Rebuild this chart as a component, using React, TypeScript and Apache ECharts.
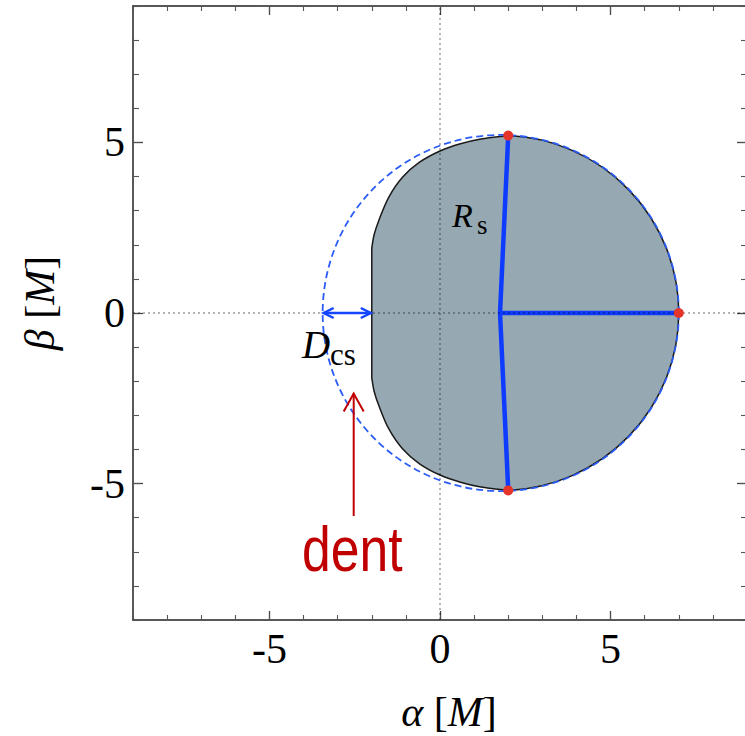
import React, { useEffect, useRef } from 'react';
import * as echarts from 'echarts';

// axis setup
const axisMin = -9;
const axisMax = 9;
const majorTicks = [-5, 0, 5];

// shadow contour: upper "dent" part, from top join down to the start of the flat edge
const dentUpperAlpha = [2.0, 1.2, 0.6, 0.0, -0.6, -1.1, -1.5, -1.78, -1.93, -2.0];
const dentUpperBeta = [5.2, 5.1, 4.96, 4.75, 4.42, 3.98, 3.4, 2.75, 2.3, 1.9];
const shadowRightPoint = [7, 0];

// reference circle (dashed)
const circleCenter = [1.78, 0];
const circleRadius = 5.22;

// R_s construction lines
const rsVertical = [[2, 5.2], [1.76, 0], [2, -5.2]];
const rsHorizontal = [[1.76, 0], [7, 0]];
const redDots = [[2, 5.2], [2, -5.2], [7, 0]];

// arrows
const dcsArrow = [[-3.44, 0], [-2.0, 0]];
const dentArrow = [[-2.53, -5.95], [-2.53, -2.36]];

const SERIF = 'Liberation Serif';

function catmull(pts: number[][]): string {
  let d = '';
  for (let i = 0; i < pts.length - 1; i++) {
    const p0 = pts[i - 1] || pts[i];
    const p1 = pts[i];
    const p2 = pts[i + 1];
    const p3 = pts[i + 2] || p2;
    const c1 = [p1[0] + (p2[0] - p0[0]) / 6, p1[1] + (p2[1] - p0[1]) / 6];
    const c2 = [p2[0] - (p3[0] - p1[0]) / 6, p2[1] - (p3[1] - p1[1]) / 6];
    d += ` C ${c1[0]} ${c1[1]} ${c2[0]} ${c2[1]} ${p2[0]} ${p2[1]}`;
  }
  return d;
}

function makeAxis(kind: 'x' | 'y', position: string, major: boolean, labels: boolean, name?: string) {
  const ax: any = {
    type: 'value',
    position,
    min: axisMin,
    max: axisMax,
    interval: 1,
    splitLine: { show: false },
    axisLine: { show: major, onZero: false, lineStyle: { color: '#222', width: 1.5 } },
    axisTick: major
      ? { show: true, inside: true, length: kind === 'x' ? 9 : 10, customValues: majorTicks, lineStyle: { color: '#444', width: 1.3 } }
      : { show: true, inside: true, length: kind === 'x' ? 5 : 6, lineStyle: { color: '#555', width: 1.1 } },
    axisLabel: labels
      ? { show: true, customValues: majorTicks, fontFamily: SERIF, fontSize: 42, color: '#000', margin: 8 }
      : { show: false },
  };
  if (name) {
    ax.name = name;
    ax.nameLocation = 'middle';
    ax.nameGap = kind === 'x' ? 71 : 72;
    ax.nameTextStyle = {
      fontFamily: SERIF,
      fontSize: 42,
      color: '#000',
      padding: kind === 'x' ? [0, 0, 0, 18] : [0, 0, 0, 20],
      rich: { i: { fontFamily: SERIF, fontStyle: 'italic', fontSize: 42, color: '#000' } },
    };
  }
  return ax;
}

export default function App() {
  const ref = useRef<HTMLDivElement>(null);
  useEffect(() => {
    if (!ref.current) return;
    const chart = echarts.init(ref.current, undefined, { renderer: 'svg' });
    const option: any = {
      animation: false,
      backgroundColor: '#fff',
      grid: { left: 133, top: 6, width: 614, height: 614, containLabel: false, outerBoundsMode: 'none' },
      xAxis: [
        makeAxis('x', 'bottom', true, true, '{i|α} [{i|M}]'),
        makeAxis('x', 'bottom', false, false),
        makeAxis('x', 'top', true, false),
        makeAxis('x', 'top', false, false),
      ],
      yAxis: [
        makeAxis('y', 'left', true, true, '{i|β} [{i|M}]'),
        makeAxis('y', 'left', false, false),
        makeAxis('y', 'right', true, false),
        makeAxis('y', 'right', false, false),
      ],
      series: [
        {
          type: 'custom',
          name: 'shadow',
          z: 2,
          data: [circleCenter],
          renderItem: (_p: any, api: any) => {
            const upper = dentUpperAlpha.map((a, i) => api.coord([a, dentUpperBeta[i]]));
            const lower = dentUpperAlpha.map((a, i) => api.coord([a, -dentUpperBeta[i]])).reverse();
            const right = api.coord(shadowRightPoint);
            const r = api.size([circleRadius, 0])[0];
            let d = `M ${upper[0][0]} ${upper[0][1]}` + catmull(upper);
            d += ` L ${lower[0][0]} ${lower[0][1]}` + catmull(lower);
            d += ` A ${r} ${r} 0 0 0 ${right[0]} ${right[1]} A ${r} ${r} 0 0 0 ${upper[0][0]} ${upper[0][1]} Z`;
            return {
              type: 'path',
              shape: { pathData: d },
              style: { fill: '#96A8B2', stroke: '#1a1a1a', lineWidth: 1.5 },
            };
          },
        },
        {
          type: 'line',
          name: 'zero',
          z: 3,
          data: [],
          markLine: {
            silent: true,
            symbol: 'none',
            label: { show: false },
            lineStyle: { color: 'rgba(0,0,0,0.38)', type: [2, 3], width: 1.5 },
            data: [{ xAxis: 0 }, { yAxis: 0 }],
          },
        },
        {
          type: 'line',
          name: 'Rs vertical',
          z: 4,
          data: rsVertical,
          symbol: 'none',
          lineStyle: { color: '#0D3BFF', width: 4.5 },
        },
        {
          type: 'line',
          name: 'Rs horizontal',
          z: 4,
          data: rsHorizontal,
          symbol: 'none',
          lineStyle: { color: '#0D3BFF', width: 4.5 },
        },
        {
          type: 'custom',
          name: 'circle',
          z: 5,
          data: [circleCenter],
          renderItem: (_p: any, api: any) => {
            const c = api.coord([api.value(0), api.value(1)]);
            const r = api.size([circleRadius, 0])[0];
            return {
              type: 'circle',
              shape: { cx: c[0], cy: c[1], r },
              style: { fill: 'none', stroke: '#2B5CF6', lineWidth: 1.8, lineDash: [7, 4] },
            };
          },
        },
        {
          type: 'scatter',
          name: 'points',
          z: 6,
          data: redDots,
          symbolSize: 10,
          itemStyle: { color: '#E5352B', opacity: 1 },
        },
        {
          type: 'custom',
          name: 'Dcs arrow',
          z: 6,
          data: [dcsArrow[0]],
          renderItem: (_p: any, api: any) => {
            const a = api.coord(dcsArrow[0]);
            const b = api.coord(dcsArrow[1]);
            const st = { stroke: '#1446FF', lineWidth: 2.5, fill: 'none' };
            return {
              type: 'group',
              children: [
                { type: 'line', shape: { x1: a[0] + 1, y1: a[1], x2: b[0] - 1, y2: b[1] }, style: st },
                { type: 'polyline', shape: { points: [[a[0] + 11, a[1] - 5], [a[0] + 1, a[1]], [a[0] + 11, a[1] + 5]] }, style: st },
                { type: 'polyline', shape: { points: [[b[0] - 11, b[1] - 5], [b[0] - 1, b[1]], [b[0] - 11, b[1] + 5]] }, style: st },
              ],
            };
          },
        },
        {
          type: 'custom',
          name: 'dent arrow',
          z: 6,
          data: [dentArrow[0]],
          renderItem: (_p: any, api: any) => {
            const a = api.coord(dentArrow[0]);
            const b = api.coord(dentArrow[1]);
            const st = { stroke: '#C00000', lineWidth: 2, fill: 'none' };
            return {
              type: 'group',
              children: [
                { type: 'line', shape: { x1: a[0], y1: a[1], x2: b[0], y2: b[1] }, style: st },
                { type: 'polyline', shape: { points: [[b[0] - 10, b[1] + 18], [b[0], b[1]], [b[0] + 10, b[1] + 18]] }, style: st },
              ],
            };
          },
        },
      ],
      graphic: [
        { type: 'text', z: 100, left: 452, top: 198, style: { text: 'R', font: `italic 34px "${SERIF}"`, fill: '#000' } },
        { type: 'text', z: 100, left: 477, top: 211, style: { text: 's', font: `27px "${SERIF}"`, fill: '#000' } },
        { type: 'text', z: 100, left: 302, top: 325, style: { text: 'D', font: `italic 39px "${SERIF}"`, fill: '#000' } },
        { type: 'text', z: 100, left: 330, top: 339, style: { text: 'cs', font: `31px "${SERIF}"`, fill: '#000' } },
        {
          type: 'text',
          z: 100,
          left: 302,
          top: 518,
          scaleX: 0.82,
          style: { text: 'dent', font: '63px "Liberation Sans"', fill: '#C00000' },
        },
      ],
    };
    chart.setOption(option);
    return () => chart.dispose();
  }, []);
  return <div ref={ref} style={{ position: 'fixed', left: 0, top: 0, width: 745, height: 736 }} />;
}
